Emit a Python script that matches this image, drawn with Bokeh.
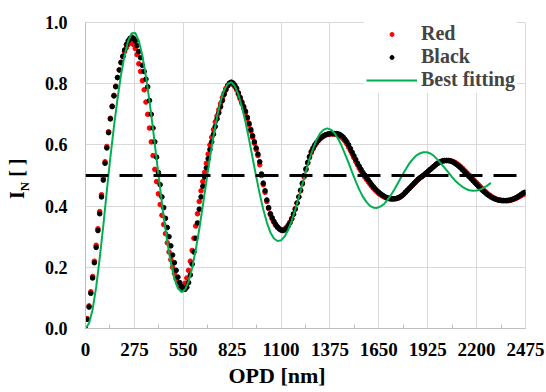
from bokeh.plotting import figure
from bokeh.models import Range1d, FixedTicker, PrintfTickFormatter, Span, Title, Div
from bokeh.layouts import row
from bokeh.embed import file_html
from bokeh.resources import INLINE

# ---------------- data ----------------
OPD_DOTS = list(range(0, 2480, 10))  # nm, sampling grid of the measured series

RED = [
    0.0, 0.032, 0.074, 0.12, 0.17, 0.22, 0.272, 0.326, 0.382, 0.437,
    0.492, 0.545, 0.595, 0.643, 0.687, 0.727, 0.762, 0.792, 0.82, 0.845,
    0.868, 0.888, 0.905, 0.918, 0.928, 0.934, 0.935, 0.928, 0.915, 0.895,
    0.865, 0.84, 0.81, 0.78, 0.74, 0.7, 0.655, 0.61, 0.565, 0.52,
    0.48, 0.44, 0.405, 0.37, 0.34, 0.31, 0.28, 0.25, 0.225, 0.2,
    0.18, 0.162, 0.148, 0.14, 0.135, 0.138, 0.148, 0.165, 0.19, 0.22,
    0.255, 0.295, 0.335, 0.375, 0.415, 0.45, 0.48, 0.51, 0.54, 0.57,
    0.6, 0.625, 0.65, 0.675, 0.695, 0.715, 0.735, 0.755, 0.77, 0.785,
    0.795, 0.8, 0.8, 0.797, 0.79, 0.78, 0.765, 0.75, 0.735, 0.72,
    0.705, 0.685, 0.665, 0.645, 0.625, 0.605, 0.585, 0.565, 0.535, 0.5,
    0.47, 0.445, 0.415, 0.392, 0.372, 0.358, 0.347, 0.337, 0.33, 0.325,
    0.322, 0.322, 0.325, 0.33, 0.338, 0.348, 0.36, 0.375, 0.392, 0.41,
    0.43, 0.45, 0.472, 0.495, 0.518, 0.54, 0.558, 0.574, 0.587, 0.598,
    0.607, 0.614, 0.62, 0.625, 0.629, 0.632, 0.634, 0.635, 0.636, 0.636,
    0.635, 0.634, 0.632, 0.629, 0.625, 0.619, 0.612, 0.603, 0.593, 0.582,
    0.57, 0.558, 0.546, 0.535, 0.524, 0.514, 0.505, 0.496, 0.488, 0.48,
    0.472, 0.465, 0.458, 0.452, 0.446, 0.441, 0.437, 0.433, 0.43, 0.427,
    0.425, 0.424, 0.423, 0.423, 0.424, 0.425, 0.427, 0.43, 0.434, 0.439,
    0.445, 0.451, 0.457, 0.463, 0.469, 0.475, 0.481, 0.486, 0.491, 0.495,
    0.5, 0.505, 0.51, 0.515, 0.52, 0.525, 0.53, 0.535, 0.539, 0.542,
    0.545, 0.547, 0.548, 0.549, 0.549, 0.548, 0.547, 0.545, 0.542, 0.538,
    0.534, 0.529, 0.524, 0.518, 0.512, 0.506, 0.5, 0.494, 0.488, 0.482,
    0.476, 0.47, 0.464, 0.458, 0.452, 0.447, 0.442, 0.437, 0.433, 0.429,
    0.426, 0.423, 0.421, 0.42, 0.419, 0.418, 0.418, 0.418, 0.418, 0.419,
    0.421, 0.423, 0.425, 0.428, 0.431, 0.434, 0.437, 0.44,
]

BLACK = [
    0.0, 0.03, 0.07, 0.115, 0.165, 0.215, 0.265, 0.32, 0.375, 0.43,
    0.485, 0.54, 0.59, 0.64, 0.685, 0.725, 0.76, 0.79, 0.82, 0.845,
    0.87, 0.89, 0.91, 0.928, 0.94, 0.948, 0.952, 0.948, 0.94, 0.925,
    0.905, 0.885, 0.86, 0.84, 0.815, 0.79, 0.745, 0.70, 0.655, 0.61,
    0.56, 0.51, 0.47, 0.43, 0.395, 0.36, 0.33, 0.30, 0.27, 0.24,
    0.215, 0.19, 0.168, 0.15, 0.138, 0.13, 0.128, 0.135, 0.15, 0.175,
    0.21, 0.25, 0.295, 0.345, 0.39, 0.43, 0.465, 0.495, 0.525, 0.555,
    0.585, 0.61, 0.635, 0.66, 0.685, 0.705, 0.725, 0.745, 0.765, 0.78,
    0.793, 0.802, 0.805, 0.802, 0.795, 0.785, 0.77, 0.755, 0.74, 0.725,
    0.71, 0.69, 0.67, 0.65, 0.63, 0.61, 0.59, 0.57, 0.545, 0.505,
    0.475, 0.45, 0.42, 0.395, 0.375, 0.362, 0.35, 0.34, 0.332, 0.326,
    0.322, 0.32, 0.322, 0.327, 0.335, 0.345, 0.358, 0.373, 0.39, 0.41,
    0.43, 0.452, 0.475, 0.5, 0.522, 0.543, 0.562, 0.578, 0.59, 0.6,
    0.608, 0.615, 0.621, 0.626, 0.63, 0.633, 0.635, 0.636, 0.637, 0.637,
    0.637, 0.637, 0.636, 0.634, 0.63, 0.625, 0.618, 0.61, 0.6, 0.588,
    0.576, 0.564, 0.552, 0.54, 0.53, 0.52, 0.51, 0.502, 0.494, 0.486,
    0.478, 0.47, 0.463, 0.456, 0.45, 0.445, 0.44, 0.436, 0.432, 0.429,
    0.427, 0.425, 0.424, 0.424, 0.424, 0.425, 0.427, 0.43, 0.434, 0.439,
    0.445, 0.451, 0.457, 0.463, 0.469, 0.475, 0.481, 0.487, 0.492, 0.496,
    0.5, 0.505, 0.51, 0.515, 0.52, 0.525, 0.53, 0.535, 0.54, 0.543,
    0.546, 0.548, 0.549, 0.549, 0.549, 0.548, 0.546, 0.543, 0.539, 0.535,
    0.53, 0.525, 0.519, 0.513, 0.507, 0.501, 0.495, 0.489, 0.483, 0.477,
    0.471, 0.465, 0.459, 0.453, 0.448, 0.443, 0.438, 0.434, 0.43, 0.427,
    0.424, 0.422, 0.42, 0.419, 0.418, 0.418, 0.418, 0.418, 0.419, 0.42,
    0.422, 0.424, 0.427, 0.43, 0.434, 0.438, 0.442, 0.445,
]

OPD_FIT = list(range(0, 2300, 20))  # nm
FIT = [
    0.0, 0.017, 0.062, 0.135, 0.23, 0.335, 0.45, 0.56, 0.66, 0.75,
    0.83, 0.893, 0.94, 0.965, 0.966, 0.94, 0.891, 0.824, 0.743, 0.651,
    0.553, 0.457, 0.365, 0.283, 0.214, 0.163, 0.131, 0.119, 0.127, 0.153,
    0.198, 0.257, 0.325, 0.402, 0.480, 0.558, 0.630, 0.692, 0.743, 0.779,
    0.799, 0.805, 0.792, 0.765, 0.724, 0.675, 0.618, 0.557, 0.497, 0.440,
    0.389, 0.347, 0.314, 0.294, 0.286, 0.288, 0.301, 0.322, 0.352, 0.389,
    0.430, 0.472, 0.514, 0.554, 0.588, 0.617, 0.638, 0.650, 0.654, 0.650,
    0.639, 0.621, 0.598, 0.570, 0.541, 0.510, 0.481, 0.454, 0.431, 0.414,
    0.401, 0.395, 0.394, 0.399, 0.407, 0.421, 0.438, 0.457, 0.478, 0.499,
    0.519, 0.538, 0.553, 0.565, 0.572, 0.576, 0.576, 0.572, 0.564, 0.552,
    0.539, 0.525, 0.511, 0.496, 0.483, 0.472, 0.463, 0.456, 0.452, 0.450,
    0.451, 0.454, 0.460, 0.467, 0.476,
]

X_TICKS = [0, 275, 550, 825, 1100, 1375, 1650, 1925, 2200, 2475]
X_MINOR = [137.5, 412.5, 687.5, 962.5, 1237.5, 1512.5, 1787.5, 2062.5, 2337.5]
Y_TICKS = [0.0, 0.2, 0.4, 0.6, 0.8, 1.0]
THRESHOLD = 0.5
NAMES = ["Red", "Black", "Best fitting"]
X_TITLE = "OPD [nm]"
Y_TITLE_MAIN, Y_TITLE_SUB, Y_TITLE_UNIT = "I", "N", "[ ]"

FONT = "Liberation Serif"
GRID = "#d9d9d9"
AXIS = "#bfbfbf"
TITLE_W = 30

p = figure(width=546 - TITLE_W, height=392, output_backend="svg", toolbar_location=None,
           x_range=Range1d(0, 2475), y_range=Range1d(0, 1),
           min_border_left=85 - TITLE_W, min_border_right=21, min_border_top=22,
           min_border_bottom=64, margin=0)
p.background_fill_color = "white"
p.border_fill_color = "white"
p.outline_line_color = GRID
p.outline_line_width = 1

# axes
xt = FixedTicker(ticks=X_TICKS, minor_ticks=X_MINOR)
yt = FixedTicker(ticks=Y_TICKS, minor_ticks=[])
p.xaxis.ticker = xt
p.yaxis.ticker = yt
p.xgrid.ticker = xt
p.ygrid.ticker = yt
p.xaxis.formatter = PrintfTickFormatter(format="%d")
p.yaxis.formatter = PrintfTickFormatter(format="%.1f")
for ax in (p.xaxis, p.yaxis):
    ax.axis_line_color = AXIS
    ax.axis_line_width = 1
    ax.major_tick_in = 0
    ax.major_tick_out = 0
    ax.major_label_text_font = FONT
    ax.major_label_text_font_style = "bold"
    ax.major_label_text_color = "black"
p.xaxis.minor_tick_in = 4
p.xaxis.minor_tick_out = 0
p.xaxis.minor_tick_line_color = AXIS
p.yaxis.minor_tick_line_color = None
p.xaxis.major_label_text_font_size = "19px"
p.yaxis.major_label_text_font_size = "18px"
p.xaxis.major_label_standoff = 14
p.yaxis.major_label_standoff = 18

p.xgrid.grid_line_color = GRID
p.ygrid.grid_line_color = GRID
p.xgrid.grid_line_width = 1
p.ygrid.grid_line_width = 1

# data
p.scatter(OPD_DOTS, RED, size=4.6, color="#ff0000", legend_label=NAMES[0])
p.scatter(OPD_DOTS, BLACK, size=4.6, color="black", legend_label=NAMES[1])
p.line(OPD_FIT, FIT, line_width=2, color="#00b050", legend_label=NAMES[2])

p.add_layout(Span(location=THRESHOLD, dimension="width", line_color="black",
                  line_width=3, line_dash="23 11"))

# legend
lg = p.legend[0]
lg.location = (279, 235)
lg.margin = 0
lg.padding = 2
lg.spacing = 0
lg.glyph_width = 51
lg.glyph_height = 10
lg.label_height = 21
lg.label_standoff = 4
lg.label_text_font = FONT
lg.label_text_font_style = "bold"
lg.label_text_font_size = "20px"
lg.border_line_alpha = 0
lg.background_fill_color = "white"
lg.background_fill_alpha = 1

# x title, left-aligned under the axis with an offset
p.add_layout(Title(text=X_TITLE, align="left", offset=143, standoff=4,
                   text_font=FONT, text_font_style="bold", text_font_size="22px",
                   text_color="black"), "below")

# y title with subscript, as rotated HTML text beside the figure
y_title_html = (
    '<div style="position:absolute;left:6px;top:199px;transform:rotate(-90deg);'
    'transform-origin:0 0;white-space:nowrap;font-family:\'Liberation Serif\';'
    'font-weight:bold;font-size:20px;line-height:22px;color:black;">'
    f'{Y_TITLE_MAIN}<sub style="font-size:13px;line-height:0;">{Y_TITLE_SUB}</sub>'
    f' {Y_TITLE_UNIT}</div>'
)
ytitle = Div(text=y_title_html, width=TITLE_W, height=392, margin=0)

layout = row(ytitle, p, spacing=0)
open("out.html", "w").write(file_html(layout, INLINE))
